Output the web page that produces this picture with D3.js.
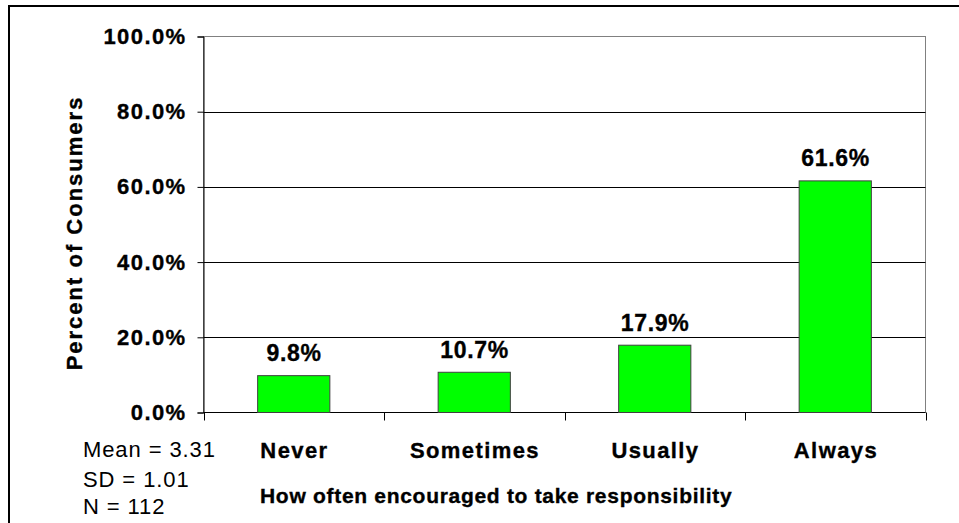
<!DOCTYPE html>
<html>
<head>
<meta charset="utf-8">
<script src="https://cdn.jsdelivr.net/npm/d3@7/dist/d3.min.js"></script>
<style>
  html, body { margin: 0; padding: 0; background: #fff; }
  svg { display: block; font-family: "Liberation Sans", Arial, sans-serif; }
  .heavy { stroke: #000; stroke-width: 0.35px; }
</style>
</head>
<body>
<svg id="chart" width="959" height="523"></svg>
<script>
// Survey responses: how often consumers are encouraged to take responsibility
const categories = ["Never", "Sometimes", "Usually", "Always"];
const percents = [9.8, 10.7, 17.9, 61.6];
const yTicks = [0, 20, 40, 60, 80, 100];
const summaryLines = ["Mean = 3.31", "SD = 1.01", "N = 112"];
const xTitle = "How often encouraged to take responsibility";
const yTitle = "Percent of Consumers";

const svg = d3.select("#chart");
const plot = { left: 203.5, right: 925.5, top: 36.5, bottom: 412.5 };

const x = d3.scaleBand()
  .domain(categories)
  .range([plot.left, plot.right])
  .paddingInner(0.6)
  .paddingOuter(0.3);

const y = d3.scaleLinear().domain([0, 100]).range([plot.bottom, plot.top]);

// Outer chart frame (left and top edges visible)
svg.append("rect")
  .attr("x", 9).attr("y", 6)
  .attr("width", 980).attr("height", 560)
  .attr("fill", "none").attr("stroke", "#000").attr("stroke-width", 2);

// Plot area border
svg.append("rect")
  .attr("x", plot.left).attr("y", plot.top)
  .attr("width", plot.right - plot.left).attr("height", plot.bottom - plot.top)
  .attr("fill", "none").attr("stroke", "#808080").attr("stroke-width", 1);

// Horizontal gridlines
svg.append("g")
  .selectAll("line")
  .data(yTicks.filter(d => d > 0 && d < 100))
  .join("line")
  .attr("x1", plot.left).attr("x2", plot.right)
  .attr("y1", d => Math.round(y(d)) + 0.5).attr("y2", d => Math.round(y(d)) + 0.5)
  .attr("stroke", "#000").attr("stroke-width", 1);

// Y axis
const yAxis = svg.append("g")
  .attr("transform", `translate(${plot.left},0)`)
  .call(d3.axisLeft(y).tickValues(yTicks).tickSize(6).tickPadding(11)
    .tickFormat(d => d.toFixed(1) + "%"));
yAxis.select(".domain").attr("stroke", "#000");
yAxis.selectAll(".tick line").attr("stroke", "#000");
yAxis.selectAll(".tick text")
  .attr("class", "heavy")
  .attr("font-family", "Liberation Sans, Arial, sans-serif")
  .attr("font-size", 22).attr("font-weight", "bold").attr("fill", "#000")
  .attr("letter-spacing", 1.4);

// X axis line with tick marks at category boundaries
const boundaries = d3.range(categories.length + 1).map(i => plot.left + i * (plot.right - plot.left) / categories.length);
svg.append("line")
  .attr("x1", plot.left).attr("x2", plot.right)
  .attr("y1", plot.bottom).attr("y2", plot.bottom)
  .attr("stroke", "#000");
svg.append("g").selectAll("line")
  .data(boundaries)
  .join("line")
  .attr("x1", d => Math.round(d) + 0.5).attr("x2", d => Math.round(d) + 0.5)
  .attr("y1", plot.bottom).attr("y2", plot.bottom + 8)
  .attr("stroke", "#000");

// Bars
svg.append("g").selectAll("rect")
  .data(percents)
  .join("rect")
  .attr("x", (d, i) => x(categories[i]))
  .attr("y", d => y(d))
  .attr("width", x.bandwidth())
  .attr("height", d => y(0) - y(d))
  .attr("fill", "#00ff00")
  .attr("stroke", "#404040").attr("stroke-width", 1);

// Value labels
svg.append("g").selectAll("text")
  .data(percents)
  .join("text")
  .attr("class", "heavy")
  .attr("x", (d, i) => x(categories[i]) + x.bandwidth() / 2 + 0.4)
  .attr("y", d => y(d) - 14.5)
  .attr("text-anchor", "middle")
  .attr("font-size", 23).attr("font-weight", "bold")
  .attr("letter-spacing", 0.7)
  .text(d => d.toFixed(1) + "%");

// Category labels
svg.append("g").selectAll("text")
  .data(categories)
  .join("text")
  .attr("class", "heavy")
  .attr("x", d => x(d) + x.bandwidth() / 2 + 0.7)
  .attr("y", 458)
  .attr("text-anchor", "middle")
  .attr("font-size", 22).attr("font-weight", "bold")
  .attr("letter-spacing", 1.4)
  .text(d => d);

// X axis title
svg.append("text")
  .attr("class", "heavy")
  .attr("x", 260).attr("y", 503)
  .attr("font-size", 21).attr("font-weight", "bold")
  .attr("letter-spacing", 0.7)
  .text(xTitle);

// Y axis title
svg.append("text")
  .attr("class", "heavy")
  .attr("transform", "translate(82,233) rotate(-90)")
  .attr("text-anchor", "middle")
  .attr("font-size", 22).attr("font-weight", "bold")
  .attr("letter-spacing", 2.0)
  .text(yTitle);

// Summary statistics
svg.append("g").selectAll("text")
  .data(summaryLines)
  .join("text")
  .attr("x", 83)
  .attr("y", (d, i) => [457, 487, 514][i])
  .attr("font-size", 22)
  .attr("letter-spacing", 0.9)
  .text(d => d);
</script>
</body>
</html>
